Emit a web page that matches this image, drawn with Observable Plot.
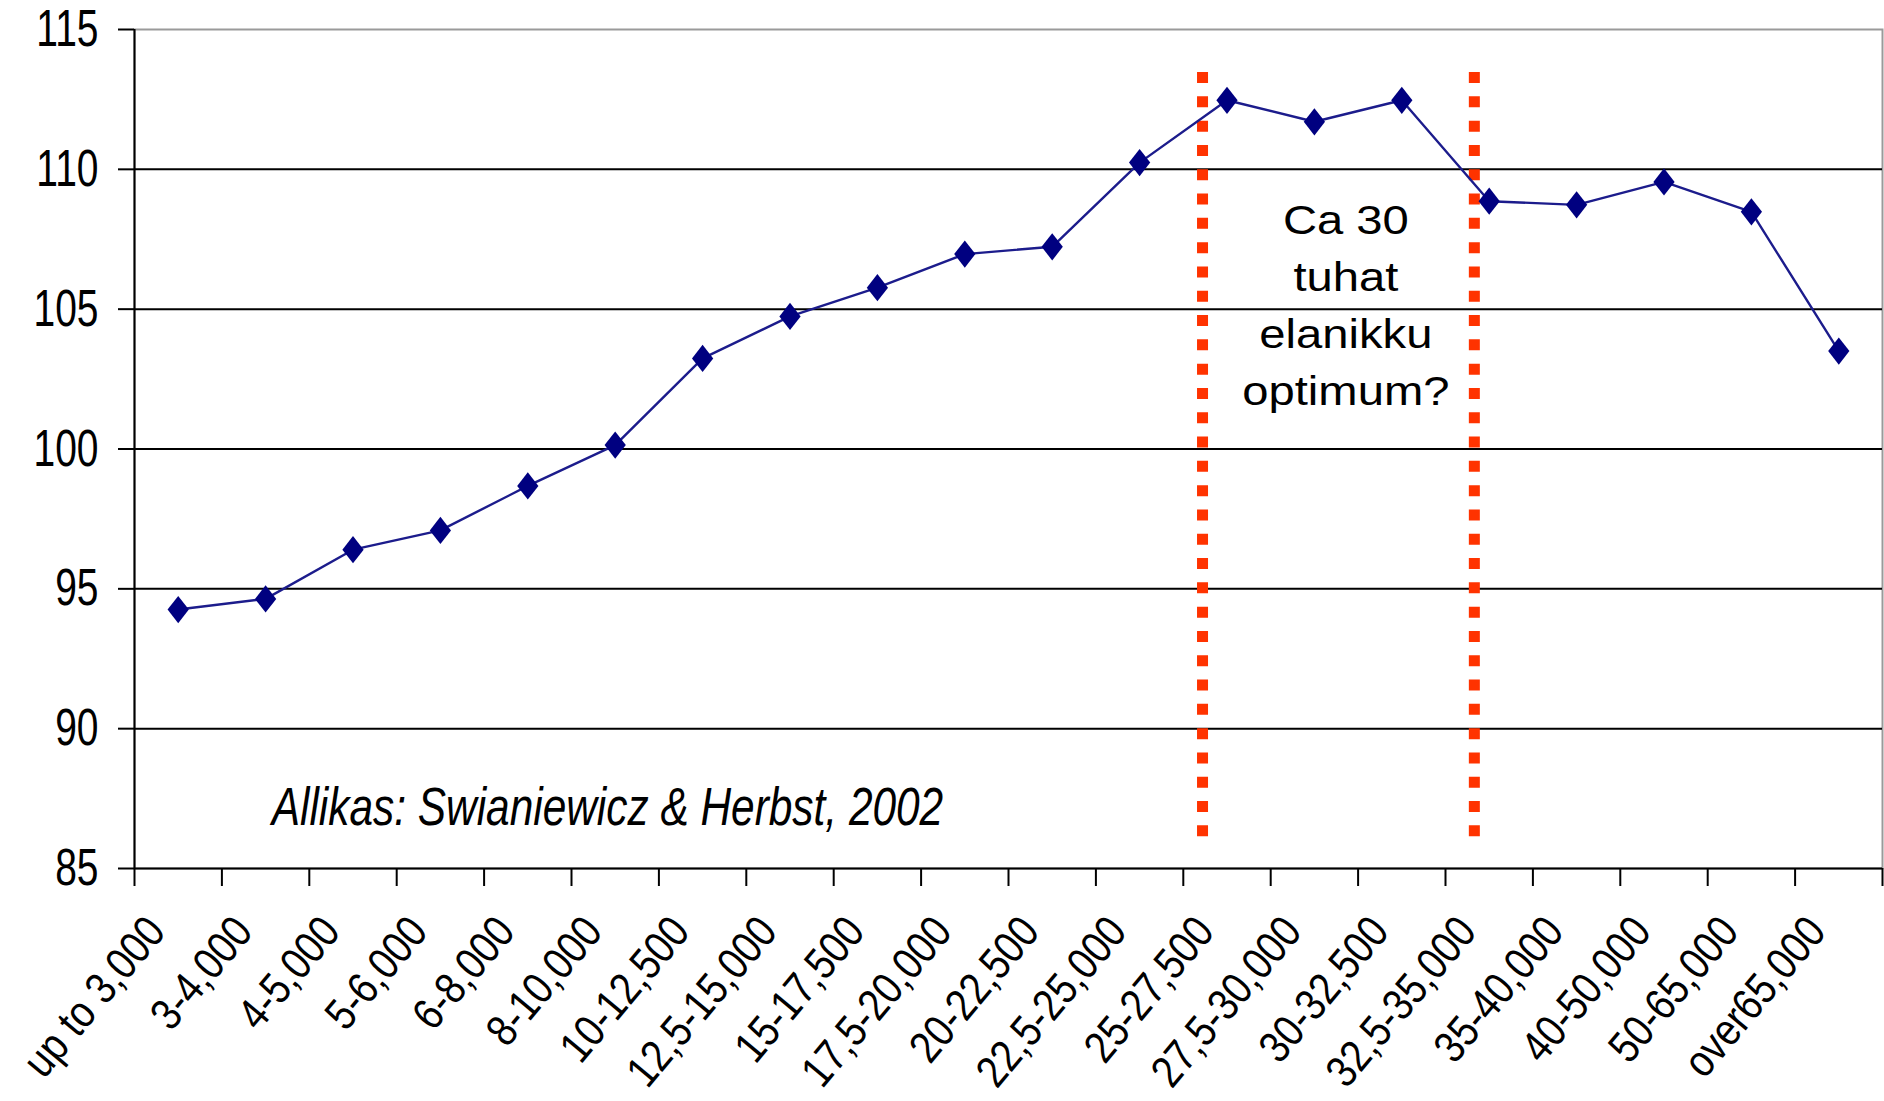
<!DOCTYPE html>
<html>
<head>
<meta charset="utf-8">
<script src="https://cdn.jsdelivr.net/npm/d3@7"></script>
<script src="https://cdn.jsdelivr.net/npm/@observablehq/plot@0.6"></script>
<style>
  html, body { margin: 0; padding: 0; background: #fff; }
  svg { display: block; }
</style>
</head>
<body>
<div id="chart"></div>
<script>
// ---- data ----
const categories = [
  "up to 3,000", "3-4,000", "4-5,000", "5-6,000", "6-8,000", "8-10,000",
  "10-12,500", "12,5-15,000", "15-17,500", "17,5-20,000", "20-22,500",
  "22,5-25,000", "25-27,500", "27,5-30,000", "30-32,500", "32,5-35,000",
  "35-40,000", "40-50,000", "50-65,000", "over65,000"
];
const values = [
  94.26, 94.64, 96.4, 97.09, 98.68, 100.14, 103.24, 104.74, 105.77, 106.97,
  107.23, 110.24, 112.47, 111.7, 112.47, 108.86, 108.73, 109.55, 108.48, 103.5
];
const yTicks = [85, 90, 95, 100, 105, 110, 115];
const gridValues = [90, 95, 100, 105, 110];
// red dotted "optimum" bracket, in category-index units
const bracketX = [12.22, 15.33];
const bracketY = [113.46, 86.1];
const noteText = "Ca 30\ntuhat\nelanikku\noptimum?";
const notePos = [13.86, 105.28];
const sourceText = "Allikas: Swianiewicz & Herbst, 2002";
const sourcePos = [1.57, 87.15];

// ---- build ----
const data = categories.map((c, i) => ({i, category: c, value: values[i]}));
const boundaries = d3.range(0, categories.length + 1);
const centers = d3.range(categories.length).map(i => i + 0.5);

const diamond = {
  draw(ctx, size) {
    const a = Math.sqrt(size / 1.56), b = 0.78 * a;
    ctx.moveTo(0, -a); ctx.lineTo(b, 0); ctx.lineTo(0, a); ctx.lineTo(-b, 0); ctx.closePath();
  }
};

const chart = Plot.plot({
  width: 1884, height: 1101,
  marginTop: 29, marginBottom: 233, marginLeft: 134, marginRight: 2,
  style: {fontFamily: "'Liberation Sans', Arial, sans-serif", background: "#fff", color: "#000"},
  x: {domain: [0, categories.length], axis: null},
  y: {domain: [yTicks[0], yTicks[yTicks.length - 1]], axis: null},
  marks: [
    Plot.frame({stroke: "#9a9a9a", strokeWidth: 2}),
    Plot.gridY(gridValues, {stroke: "#000", strokeOpacity: 1, strokeWidth: 2}),
    Plot.ruleY([yTicks[0]], {stroke: "#000", strokeWidth: 2}),
    Plot.ruleX([0], {stroke: "#000", strokeWidth: 2}),
    Plot.axisY({ticks: yTicks, label: null, tickSize: 16, tickPadding: 20, fontSize: 39, stroke: "#000", strokeWidth: 2, fill: "#000"}),
    Plot.axisX({ticks: boundaries, label: null, tickSize: 18, tickFormat: () => "", stroke: "#000", strokeWidth: 2}),
    Plot.axisX({ticks: centers, label: null, tickSize: 0, tickPadding: 55, tickRotate: -50, dx: -22,
      tickFormat: v => categories[Math.floor(v)], fontSize: 40, fill: "#000"}),
    Plot.ruleX(bracketX, {y1: bracketY[0], y2: bracketY[1], stroke: "#ff3300", strokeWidth: 11, strokeDasharray: "11,13.3"}),
    Plot.line(data, {x: d => d.i + 0.5, y: "value", stroke: "#1c1c8c", strokeWidth: 2.4}),
    Plot.dot(data, {x: d => d.i + 0.5, y: "value", symbol: diamond, r: 9.6, fill: "#000080", stroke: "none"}),
    Plot.text([noteText], {x: () => notePos[0], y: () => notePos[1], text: d => d, fontSize: 40,
      lineHeight: 1.42, textAnchor: "middle", lineAnchor: "middle", fill: "#000"}),
    Plot.text([sourceText], {x: () => sourcePos[0], y: () => sourcePos[1], text: d => d, fontSize: 42.4,
      fontStyle: "italic", textAnchor: "start", lineAnchor: "middle", fill: "#000"})
  ]
});
document.getElementById("chart").appendChild(chart);

// The reference's chart lettering is tall and narrow; reproduce by scaling each text
// about its own anchor. pre = scale in screen frame (before rotate), post = in the text's own frame.
function stretch(el, sx, sy, post) {
  let t = el.getAttribute("transform") || "";
  const s = ` scale(${sx},${sy})`;
  if (post || !t.includes("rotate(")) t = t + s;
  else t = t.replace(/\s*rotate\(/, s + " rotate(");
  el.setAttribute("transform", t.trim());
}
chart.querySelectorAll("text").forEach(el => {
  const txt = el.textContent;
  if (yTicks.map(String).includes(txt)) stretch(el, 1, 1.33);
  else if (categories.includes(txt)) stretch(el, 0.96, 1.12, true);
  else if (txt === sourceText) stretch(el, 1, 1.25);
  else if (txt === noteText.replace(/\n/g, "")) stretch(el, 1.18, 1);
});
</script>
</body>
</html>
